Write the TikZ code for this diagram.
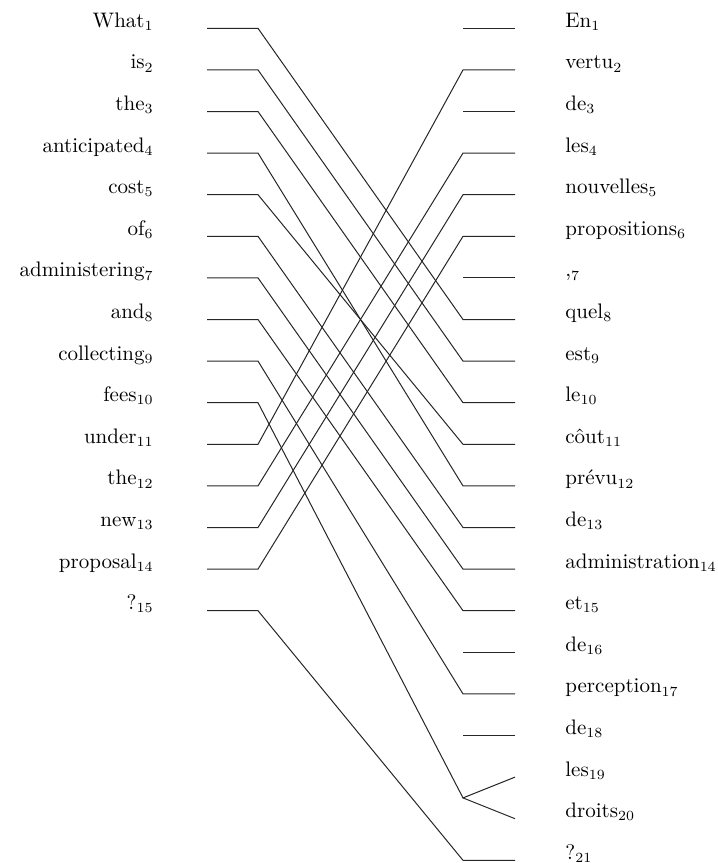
\documentclass[tikz,border=0pt]{standalone}
\usepackage{tikz}
\usetikzlibrary{calc}
\begin{document}
\begin{tikzpicture}[x=0.5pt,y=-0.5pt,
    word/.style={font=\fontsize{10.5}{12}\selectfont, inner sep=0pt},
    link/.style={line width=0.5pt, draw=black!85}]
\useasboundingbox (0,0) rectangle (718,863);

% English words and their stubs
\foreach \w [count=\i] in {What,is,the,anticipated,cost,of,administering,and,collecting,fees,under,the,new,proposal,?}{
    \pgfmathsetmacro\yy{28.3+(\i-1)*41.6}
    \node[word, anchor=base east] (e\i) at (154,\yy-1) {\w$_{\i}$};
    \coordinate (ea\i) at (207,\yy);
    \coordinate (eb\i) at (258,\yy);
}

% French words and their stubs
\foreach \w [count=\i] in {En,vertu,de,les,nouvelles,propositions,{,},quel,est,le,c\^out,pr\'evu,de,administration,et,de,perception,de,les,droits,?}{
    \pgfmathsetmacro\yy{28.3+(\i-1)*41.6}
    \node[word, anchor=base west] (f\i) at (565,\yy-1) {\w$_{\i}$};
    \coordinate (fa\i) at (463,\yy);
    \coordinate (fb\i) at (515,\yy);
}

% Alignment links
\foreach \a/\b in {1/8,2/9,3/10,4/12,5/11,6/13,7/14,8/15,9/17,11/2,12/4,13/5,14/6,15/21}
    \draw[link] (ea\a) -- (eb\a) -- (fa\b) -- (fb\b);

% Unaligned French words
\foreach \b in {1,3,7,16,18}
    \draw[link] (fa\b) -- (fb\b);

% fees -> les droits
\coordinate (fork) at ($(fa19)!0.5!(fa20)$);
\draw[link] (ea10) -- (eb10) -- (fork) -- (fb19);
\draw[link] (fork) -- (fb20);
\end{tikzpicture}
\end{document}
